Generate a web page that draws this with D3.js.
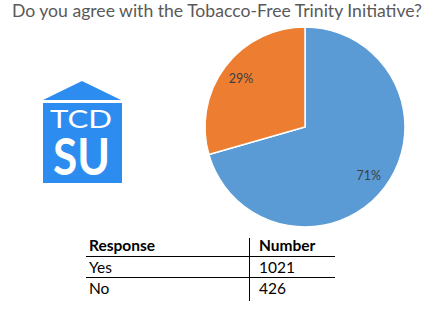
<!DOCTYPE html>
<html>
<head>
<meta charset="utf-8">
<script src="https://cdn.jsdelivr.net/npm/d3@7"></script>
<style>
  body { margin: 0; background: #fff; }
  text { font-family: Lato, "Open Sans", sans-serif; }
</style>
</head>
<body>
<div id="chart"></div>
<script>
// Data
const title = "Do you agree with the Tobacco-Free Trinity Initiative?";
const responses = ["Yes", "No"];
const counts = [1021, 426];
const colors = ["#5B9BD5", "#ED7D31"];
const tableHeaders = ["Response", "Number"];

const dimensions = { width: 438, height: 310 };

const svg = d3
  .select("#chart")
  .append("svg")
  .attr("width", dimensions.width)
  .attr("height", dimensions.height);

// Title
svg
  .append("text")
  .attr("x", 12)
  .attr("y", 17)
  .attr("font-size", 18)
  .attr("fill", "#595959")
  .attr("textLength", 410)
  .attr("lengthAdjust", "spacingAndGlyphs")
  .text(title);

// Pie
const data = responses.map((r, i) => ({ response: r, count: counts[i] }));
const total = d3.sum(counts);

const pie = d3.pie().sort(null).value((d) => d.count);
const radius = 100;
const arc = d3.arc().innerRadius(0).outerRadius(radius);
const labelArc = d3.arc().innerRadius(80).outerRadius(80);

const pieG = svg.append("g").attr("transform", "translate(305, 127)");

pieG
  .selectAll("path")
  .data(pie(data))
  .join("path")
  .attr("d", arc)
  .attr("fill", (d, i) => colors[i])
  .attr("stroke", "#fff")
  .attr("stroke-width", 1.5);

pieG
  .selectAll("text")
  .data(pie(data))
  .join("text")
  .attr("transform", (d) => `translate(${labelArc.centroid(d)})`)
  .attr("text-anchor", "middle")
  .attr("dy", "0.35em")
  .attr("font-size", 12.5)
  .attr("fill", "#404040")
  .text((d) => `${Math.round((d.data.count / total) * 100)}%`);

// Logo
const logo = svg.append("g");
logo
  .append("polygon")
  .attr("points", "43,100 82,81 121,100")
  .attr("fill", "#2D8CF0");
logo
  .append("rect")
  .attr("x", 43)
  .attr("y", 103)
  .attr("width", 79)
  .attr("height", 80)
  .attr("fill", "#2D8CF0");
logo
  .append("text")
  .attr("x", 81)
  .attr("y", 128)
  .attr("text-anchor", "middle")
  .attr("font-family", "Open Sans, sans-serif")
  .attr("font-size", 25)
  .attr("fill", "#fff")
  .attr("textLength", 62)
  .attr("lengthAdjust", "spacingAndGlyphs")
  .text("TCD");
logo
  .append("text")
  .attr("x", 81.5)
  .attr("y", 175)
  .attr("text-anchor", "middle")
  .attr("font-family", "Open Sans, sans-serif")
  .attr("font-weight", "bold")
  .attr("font-size", 52)
  .attr("fill", "#fff")
  .attr("textLength", 57)
  .attr("lengthAdjust", "spacingAndGlyphs")
  .text("SU");

// Table
const table = svg.append("g").attr("font-size", 15.5).attr("fill", "#000");
const colX = [89, 259];
const rowY = [251, 272.5, 294];

tableHeaders.forEach((h, i) => {
  table
    .append("text")
    .attr("x", colX[i])
    .attr("y", rowY[0])
    .attr("font-weight", "bold")
    .text(h);
});

data.forEach((d, i) => {
  table.append("text").attr("x", colX[0]).attr("y", rowY[i + 1]).text(d.response);
  table.append("text").attr("x", colX[1]).attr("y", rowY[i + 1]).text(d.count);
});

[256.5, 277.5].forEach((y) => {
  table
    .append("line")
    .attr("x1", 86)
    .attr("x2", 335)
    .attr("y1", y)
    .attr("y2", y)
    .attr("stroke", "#000")
    .attr("stroke-width", 1);
});

table
  .append("line")
  .attr("x1", 249.5)
  .attr("x2", 249.5)
  .attr("y1", 238)
  .attr("y2", 301)
  .attr("stroke", "#000")
  .attr("stroke-width", 1);
</script>
</body>
</html>
